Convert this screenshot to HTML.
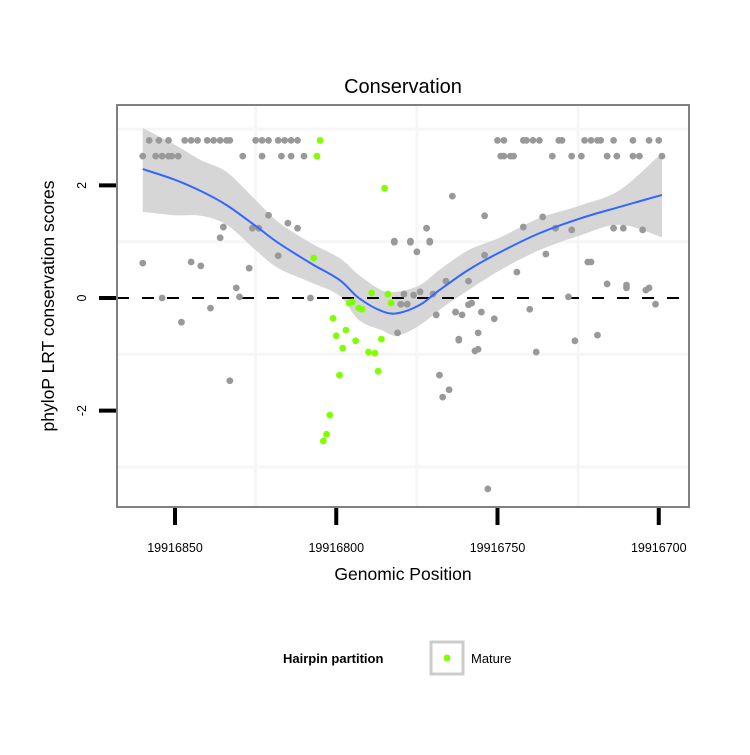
<!DOCTYPE html>
<html><head><meta charset="utf-8"><style>
body{margin:0;background:#fff;width:750px;height:750px;overflow:hidden}
svg text{font-family:"Liberation Sans",sans-serif}
</style></head><body>
<svg id="chart" width="750" height="750" viewBox="0 0 750 750" xmlns="http://www.w3.org/2000/svg">
<text x="403" y="93" font-size="20" text-anchor="middle">Conservation</text>
<rect x="117" y="105" width="572" height="402" fill="#fff"/>
<g id="grid"></g>
<g id="band"></g>
<line x1="117" x2="689" y1="298" y2="298" stroke="#000" stroke-width="2" stroke-dasharray="12,13"/>
<g id="pts"></g>
<g id="fit"></g>
<rect x="117" y="105" width="572" height="402" fill="none" stroke="#808080" stroke-width="2"/>
<g id="axes"></g>
<text x="403" y="580" font-size="17.5" text-anchor="middle">Genomic Position</text>
<text x="0" y="0" font-size="17.5" text-anchor="middle" transform="translate(54,306) rotate(-90)">phyloP LRT conservation scores</text>
<g>
<text x="283" y="663" font-size="13" font-weight="bold">Hairpin partition</text>
<rect x="431" y="642" width="32" height="32" fill="#fff" stroke="#ccc" stroke-width="3"/>
<circle cx="447" cy="658" r="3.5" fill="#7fff00"/>
<text x="471" y="663" font-size="13">Mature</text>
</g>
</svg>
<script>
const grayPos=[19916858,19916855,19916852,19916847,19916845,19916843,19916840,19916838,19916836,19916834,19916833,19916825,19916823,19916821,19916818,19916816,19916814,19916812,
19916750,19916748,19916742,19916741,19916739,19916737,19916731,19916730,19916723,19916721,19916719,19916718,19916714,19916708,19916703,19916700,
19916860,19916856,19916854,19916852,19916851,19916849,19916829,19916823,19916817,19916814,19916810,
19916749,19916748,19916746,19916745,19916733,19916727,19916724,19916716,19916713,19916708,19916706,19916699,
19916860,19916845,19916842,19916836,19916835,19916827,19916831,19916826,19916824,19916821,19916815,19916812,19916818,19916782,19916854,19916830,19916808,19916848,19916839,19916833,
19916782,19916777,19916771,19916775,19916779,19916776,19916774,19916770,19916780,19916778,19916766,19916759,19916769,19916763,19916761,19916759,19916758,19916781,19916762,19916756,
19916764,19916754,19916772,19916777,19916771,19916736,19916742,19916732,19916727,19916714,19916711,19916705,19916754,19916735,19916744,19916722,19916721,19916716,19916710,19916710,19916704,19916703,19916728,
19916701,19916740,19916755,19916751,19916763,19916769,19916756,19916762,19916757,19916738,19916726,19916719,19916768,19916765,19916767,19916753];
const grayVal=[2.8,2.8,2.8,2.8,2.8,2.8,2.8,2.8,2.8,2.8,2.8,2.8,2.8,2.8,2.8,2.8,2.8,2.8,
2.8,2.8,2.8,2.8,2.8,2.8,2.8,2.8,2.8,2.8,2.8,2.8,2.8,2.8,2.8,2.8,
2.52,2.52,2.52,2.52,2.52,2.52,2.52,2.52,2.52,2.52,2.52,
2.52,2.52,2.52,2.52,2.52,2.52,2.52,2.52,2.52,2.52,2.52,2.52,
0.62,0.64,0.57,1.07,1.26,0.53,0.18,1.24,1.24,1.47,1.33,1.24,0.75,1.01,0,0.02,0,-0.43,-0.18,-1.47,
0.99,0.99,0.99,0.82,0.07,0.05,0.11,0.07,-0.11,-0.11,0.3,0.3,-0.3,-0.25,-0.3,-0.12,-0.09,-0.62,-0.73,-0.91,
1.81,1.46,1.24,1.01,1.01,1.44,1.26,1.24,1.21,1.24,1.24,1.21,0.76,0.78,0.46,0.64,0.64,0.25,0.18,0.23,0.14,0.18,0.02,
-0.11,-0.2,-0.25,-0.37,-0.25,-0.3,-0.62,-0.75,-0.94,-0.96,-0.76,-0.66,-1.37,-1.63,-1.76,-3.39];
const greenPos=[19916805,19916806,19916785,19916807,19916801,19916797,19916800,19916794,19916798,19916786,19916790,19916788,19916787,19916799,19916802,19916803,19916804,19916795,19916792,19916789,19916784,19916783,19916796,19916793];
const greenVal=[2.8,2.52,1.95,0.71,-0.36,-0.57,-0.67,-0.76,-0.89,-0.73,-0.96,-0.98,-1.3,-1.37,-2.08,-2.42,-2.54,-0.07,-0.2,0.09,0.07,-0.09,-0.09,-0.18];
const fitPos=[19916860,19916850,19916842,19916834,19916825,19916818,19916808,19916799,19916793,19916786,19916781,19916774,19916768,19916759,19916749,19916737,19916724,19916712,19916699];
const fitVal=[2.29,2.1,1.9,1.65,1.28,0.98,0.62,0.32,0,-0.23,-0.27,-0.12,0.14,0.5,0.82,1.15,1.42,1.62,1.83];
const fitUpper=[3.02,2.72,2.45,2.24,1.74,1.35,0.98,0.71,0.41,0.14,0.11,0.23,0.5,0.85,1.08,1.42,1.65,1.92,2.58];
const fitLower=[1.53,1.47,1.46,1.3,0.85,0.53,0.28,0.04,-0.39,-0.57,-0.67,-0.48,-0.21,0.14,0.5,0.85,1.12,1.3,1.08];
const xTicks=[19916850,19916800,19916750,19916700];
const xTickLabels=["19916850","19916800","19916750","19916700"];
const yTicks=[2,0,-2];
const yTickLabels=["2","0","-2"];
const xMinor=[19916825,19916775,19916725];
const yMinor=[3,1,-1,-3];

const X=v=>175+(19916850-v)*3.225;
const Y=v=>298-v*56.3;
const NS='http://www.w3.org/2000/svg';
function mk(tag,parent,attrs){const e=document.createElementNS(NS,tag);for(const k in attrs)e.setAttribute(k,attrs[k]);parent.appendChild(e);return e;}
function smooth(p,move){let d=move?'M'+p[0][0]+','+p[0][1]:'L'+p[0][0]+','+p[0][1];
for(let i=0;i<p.length-1;i++){const p0=p[Math.max(0,i-1)],p1=p[i],p2=p[i+1],p3=p[Math.min(p.length-1,i+2)];
const c1=[p1[0]+(p2[0]-p0[0])/6,p1[1]+(p2[1]-p0[1])/6],c2=[p2[0]-(p3[0]-p1[0])/6,p2[1]-(p3[1]-p1[1])/6];
d+='C'+c1[0]+','+c1[1]+' '+c2[0]+','+c2[1]+' '+p2[0]+','+p2[1];}return d;}
const grid=document.getElementById('grid');
xMinor.forEach(v=>{const l=mk('line',grid,{x1:X(v),x2:X(v),y1:105,y2:507,stroke:'#f6f6f6','stroke-width':3});

});
yMinor.forEach(v=>{const l=mk('line',grid,{x1:117,x2:689,y1:Y(v),y2:Y(v),stroke:'#f6f6f6','stroke-width':3});

});
const band=document.getElementById('band');
const up=fitPos.map((p,i)=>[X(p),Y(fitUpper[i])]);
const lo=fitPos.map((p,i)=>[X(p),Y(fitLower[i])]).reverse();
const bp=mk('path',band,{d:smooth(up,true)+smooth(lo,false)+'Z',fill:'#d6d6d6'});


const pts=document.getElementById('pts');
grayPos.forEach((p,i)=>{const c=mk('circle',pts,{cx:X(p),cy:Y(grayVal[i]),r:3.4,fill:'#999999'});

});
greenPos.forEach((p,i)=>{const c=mk('circle',pts,{cx:X(p),cy:Y(greenVal[i]),r:3.4,fill:'#7fff00'});

});
const fit=document.getElementById('fit');
const fp=fitPos.map((p,i)=>[X(p),Y(fitVal[i])]);
const fl=mk('path',fit,{d:smooth(fp,true),fill:'none',stroke:'#3366ff','stroke-width':2,'stroke-linejoin':'round'});


const axes=document.getElementById('axes');
xTicks.forEach((v,i)=>{const t=mk('line',axes,{x1:X(v),x2:X(v),y1:508,y2:525,stroke:'#000','stroke-width':4});


const tx=mk('text',axes,{x:X(v),y:552,'font-size':12.5,'text-anchor':'middle'});tx.textContent=xTickLabels[i];

});
yTicks.forEach((v,i)=>{const t=mk('line',axes,{x1:99,x2:116,y1:Y(v),y2:Y(v),stroke:'#000','stroke-width':4});


const tx=mk('text',axes,{x:0,y:0,'font-size':12.5,'text-anchor':'middle',transform:`translate(86,${Y(v)}) rotate(-90)`});tx.textContent=yTickLabels[i];

});
</script>
</body></html>
